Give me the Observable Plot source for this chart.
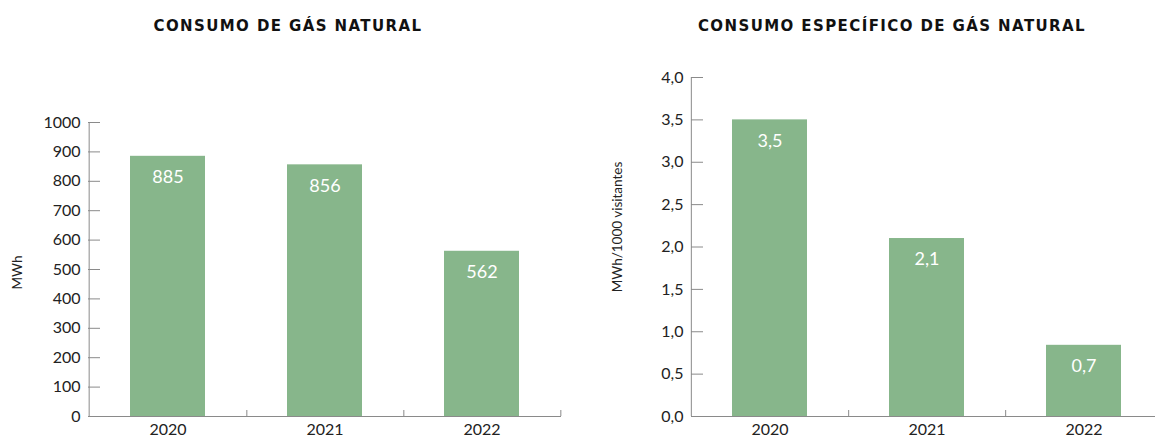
<!DOCTYPE html>
<html>
<head>
<meta charset="utf-8">
<script src="https://cdn.jsdelivr.net/npm/d3@7"></script>
<script src="https://cdn.jsdelivr.net/npm/@observablehq/plot@0.6"></script>
<style>
  html, body { margin: 0; padding: 0; background: #fff; }
  body { width: 1155px; height: 437px; overflow: hidden; position: relative; }
  .title { position: absolute; top: 17px; font-family: "DejaVu Sans", sans-serif; font-weight: bold; font-size: 15px; color: #111; letter-spacing: 1.4px; transform: translateX(-50%); white-space: nowrap; }
  .chart { position: absolute; top: 0; }
  .chart svg { overflow: visible; max-width: none !important; display: block; }
</style>
</head>
<body>
<div class="title" id="t1" style="left:288px">CONSUMO DE GÁS NATURAL</div>
<div class="title" id="t2" style="left:892px">CONSUMO ESPECÍFICO DE GÁS NATURAL</div>
<div class="chart" id="c1" style="left:0px;width:580px"></div>
<div class="chart" id="c2" style="left:600px;width:563px"></div>
<script>
const years = ["2020", "2021", "2022"];
const gasValues = [885, 856, 562];
const gasLabels = ["885", "856", "562"];
const specValues = [3.5, 2.1, 0.84];
const specLabels = ["3,5", "2,1", "0,7"];
const gasTicks = [0, 100, 200, 300, 400, 500, 600, 700, 800, 900, 1000];
const specTicks = [0, 0.5, 1.0, 1.5, 2.0, 2.5, 3.0, 3.5, 4.0];

const GREEN = "#87b68b";
const AXIS = "#8a8a8a";
const FONT = "Lato, sans-serif";

function makeChart({values, labels, ticks, yMax, yLabel, fmt, width, height, ml, mr, mt, mb, labelDy}) {
  const data = years.map((y, i) => ({year: y, value: values[i], label: labels[i]}));
  const plotW = width - ml - mr;
  const plotH = height - mt - mb;
  const step = plotW / years.length;
  return Plot.plot({
    width, height,
    marginLeft: ml, marginRight: mr, marginTop: mt, marginBottom: mb,
    style: {fontFamily: FONT, fontSize: "16px", color: "#222", background: "transparent"},
    x: {domain: years, paddingInner: 0.52, paddingOuter: 0.26, axis: null},
    y: {domain: [0, yMax], axis: null},
    marks: [
      Plot.barY(data, {x: "year", y: "value", fill: GREEN}),
      Plot.text(data, {x: "year", y: "value", text: "label", fill: "white", fontSize: 18, dy: 21, fontFamily: FONT}),
      // y tick labels
      Plot.axisY({ticks, tickSize: 0, tickPadding: 8, tickFormat: fmt, label: null, fill: "#222", fontSize: 16}),
      // y axis line at left edge of first band
      Plot.ruleX([years[0]], {x: d => d, dx: -step / 2, stroke: AXIS, strokeWidth: 1}),
      // inward y tick marks
      Plot.ruleY(ticks, {stroke: AXIS, strokeWidth: 1, insetRight: plotW - 12}),
      // x axis baseline
      Plot.ruleY([0], {stroke: AXIS, strokeWidth: 1.2}),
      // boundary ticks after each category
      Plot.ruleX(years, {x: d => d, dx: step / 2, y1: 0, y2: yMax * 6 / plotH, stroke: AXIS}),
      // x tick labels
      Plot.text(years, {x: d => d, y: 0, text: d => d, dy: 13, fill: "#222", fontSize: 16, fontFamily: FONT}),
      // y axis title
      Plot.text([yLabel], {frameAnchor: "left", textAnchor: "middle", text: d => d, rotate: -90, dx: -(ml - 17), dy: labelDy, fontSize: 13.5, fill: "#222", fontFamily: FONT})
    ]
  });
}

document.getElementById("c1").appendChild(makeChart({
  values: gasValues, labels: gasLabels, ticks: gasTicks, yMax: 1000, yLabel: "MWh",
  fmt: d => String(d),
  width: 580, height: 437, ml: 88, mr: 19, mt: 122, mb: 21, labelDy: 3
}));

document.getElementById("c2").appendChild(makeChart({
  values: specValues, labels: specLabels, ticks: specTicks, yMax: 4, yLabel: "MWh/1000 visitantes",
  fmt: d => d.toFixed(1).replace(".", ","),
  width: 563, height: 437, ml: 91, mr: 0, mt: 77, mb: 21, labelDy: -20
}));
</script>
</body>
</html>
